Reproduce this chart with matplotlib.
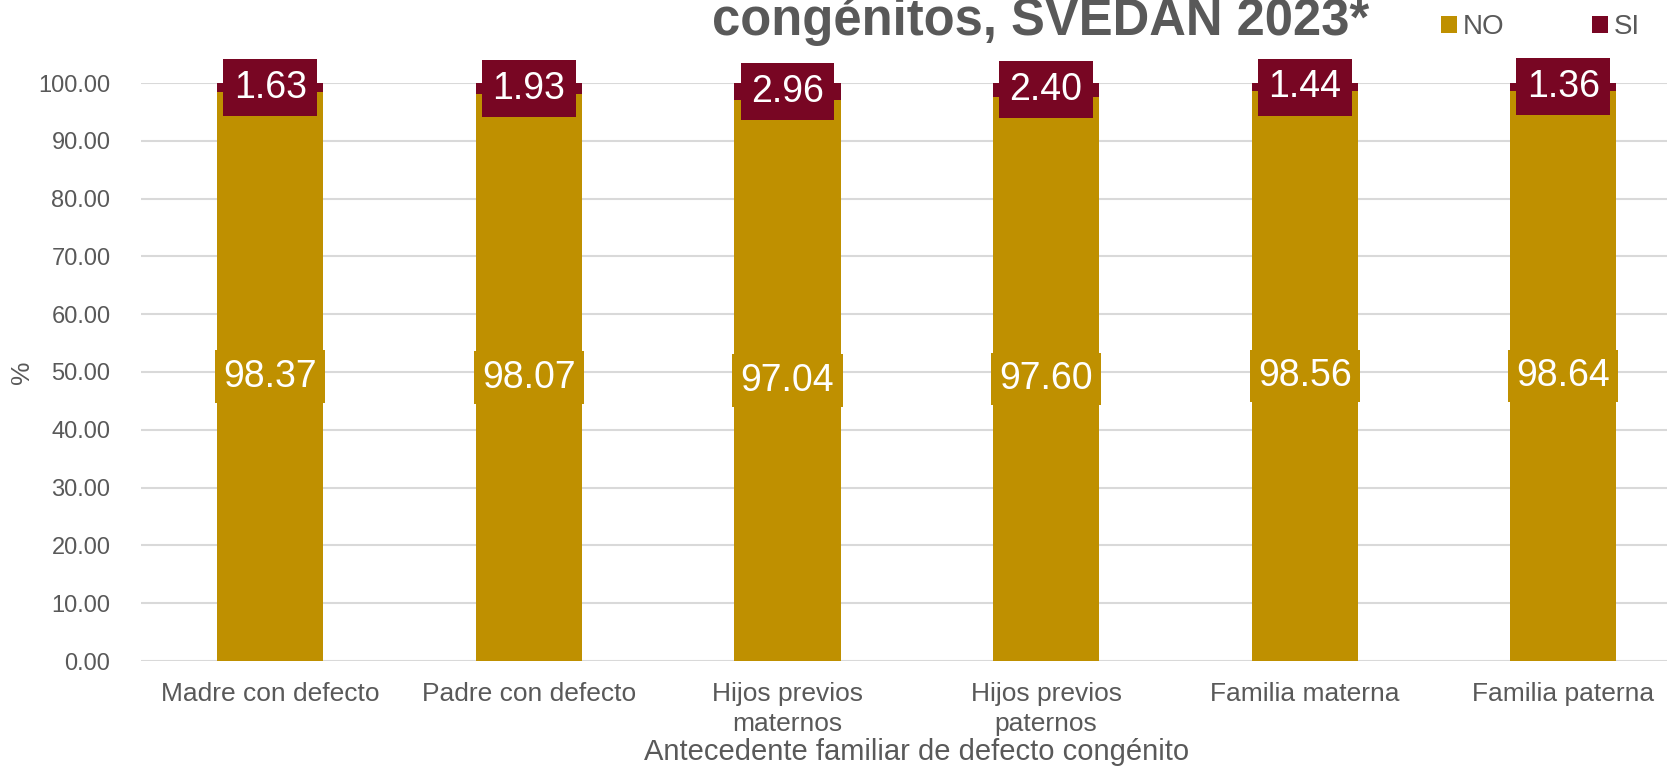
import matplotlib
matplotlib.use("Agg")
import matplotlib.pyplot as plt
import numpy as np

plt.rcParams['font.family'] = ['Liberation Sans', 'DejaVu Sans']

categorias = ["Madre con defecto", "Padre con defecto", "Hijos previos\nmaternos",
              "Hijos previos\npaternos", "Familia materna", "Familia paterna"]
no_vals = [98.37, 98.07, 97.04, 97.60, 98.56, 98.64]
si_vals = [1.63, 1.93, 2.96, 2.40, 1.44, 1.36]
yticks = np.arange(0, 101, 10)

c_no = '#BF9000'
c_si = '#780623'
gris = '#595959'

W, H = 1667, 772
fig = plt.figure(figsize=(W / 100, H / 100), dpi=100)
# the plot area runs past the right edge of the picture, as in the original
ax = fig.add_axes([141 / W, 1 - 661 / H, 6 * 258.6 / W, (661 - 83) / H])

x = np.arange(len(categorias))
ancho = 0.41
b_no = ax.bar(x, no_vals, ancho, color=c_no, label='NO', zorder=2)
b_si = ax.bar(x, si_vals, ancho, bottom=no_vals, color=c_si, label='SI', zorder=2)

for i in range(len(x)):
    ax.text(x[i], no_vals[i] / 2, '%.2f' % no_vals[i], ha='center', va='center',
            color='white', fontsize=27, zorder=4, clip_on=False,
            bbox=dict(boxstyle='square,pad=0.22', fc=c_no, ec='none'))
    ax.text(x[i], no_vals[i] + si_vals[i] / 2, '%.2f' % si_vals[i], ha='center', va='center',
            color='white', fontsize=27, zorder=4, clip_on=False,
            bbox=dict(boxstyle='square,pad=0.28', fc=c_si, ec='none'))

ax.set_xlim(-0.5, len(x) - 0.5)
ax.set_ylim(0, 100)
ax.set_yticks(yticks)
ax.set_yticklabels(['%.2f' % v for v in yticks])
ax.set_xticks(x)
ax.set_xticklabels(categorias, linespacing=1.3)
ax.tick_params(axis='both', length=0, labelcolor=gris)
ax.tick_params(axis='y', pad=22, labelsize=17)
ax.tick_params(axis='x', pad=15, labelsize=19)
ax.grid(axis='y', color='#D9D9D9', linewidth=1.5, zorder=0)
for s in ax.spines.values():
    s.set_visible(False)

ax.set_xlabel('Antecedente familiar de defecto congénito', fontsize=21, color=gris, labelpad=2)
ax.set_ylabel('%', fontsize=19, color=gris)
ax.yaxis.set_label_coords(-0.069, 0.5)

fig.text(1041 / W, 1 - 35 / H, 'congénitos, SVEDAN 2023*', ha='center', va='baseline',
         fontsize=36.5, fontweight='bold', color=gris)

fig.legend(handles=[b_no, b_si], loc='upper left', bbox_to_anchor=(1416 / W, 1.014),
           ncol=2, frameon=False, fontsize=20, handlelength=0.58, handleheight=0.58,
           handletextpad=0.2, columnspacing=3.15, labelcolor=gris)

fig.savefig('out.png', dpi=100)
